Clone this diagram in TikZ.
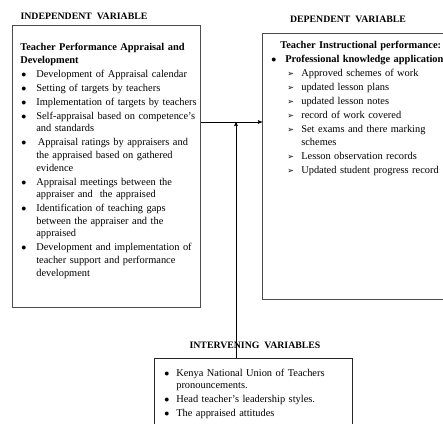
\documentclass[tikz,border=0pt]{standalone}
\usepackage{fontspec}
\setmainfont{Liberation Serif}
\newfontfamily\arrowfont{DejaVu Sans}
\usepackage{tikz}
\usetikzlibrary{arrows}
\usetikzlibrary{calc}
\usetikzlibrary{positioning}

\newlength{\itemgap}
\setlength{\itemgap}{1.4pt}
% bullet item, optional hanging indent
\newcommand{\bitem}[2][16pt]{\par\vspace{\itemgap}\hangindent=#1\hangafter=1\noindent\makebox[#1][l]{\hspace{1pt}$\bullet$}{#2}}
% arrow sub item
\newcommand{\aitem}[1]{\par\vspace{\itemgap}\hangindent=31pt\hangafter=1\noindent\hspace*{17pt}\makebox[14pt][l]{\arrowfont\fontsize{8}{8}\selectfont ➢}{#1}}

\begin{document}
\begin{tikzpicture}[x=1pt,y=-1pt,>=stealth',semithick]
 \tikzstyle{varbox}=[draw=black!70, line width=0.9pt, rectangle, inner sep=0pt, anchor=north west]
 \tikzstyle{head}=[font=\fontsize{9.8}{11}\selectfont\bfseries, inner sep=0pt]
 \tikzstyle{body}=[font=\fontsize{10.4}{12.6}\selectfont, text width=200pt, inner sep=0pt, anchor=north west]
 \useasboundingbox (0,0) rectangle (443,423);
 \clip (0,0) rectangle (443,423);

 \node[varbox, minimum width=188pt, minimum height=282pt] (indep) at (12,25) {};
 \node[varbox, minimum width=220pt, minimum height=266pt] (dep) at (262,33) {};
 \node[varbox, draw=black!85, minimum width=198pt, minimum height=90pt] (interv) at (154,358) {};

 \node[head] (indephead) at (84,16.5) {INDEPENDENT\hspace{5pt}VARIABLE};
 \node[head] (dephead) at (348,19.5) {DEPENDENT\hspace{5pt}VARIABLE};
 \node[head] (intervhead) at (255,345) {INTERVENING\hspace{5pt}VARIABLES};

 \node[body] (indeptext) at ($(indep.north west)+(8,18)$) {\raggedright
  {\bfseries Teacher Performance Appraisal and\newline Development}
  \bitem{Development of Appraisal calendar}
  \bitem{Setting of targets by teachers}
  \bitem{Implementation of targets by teachers}
  \bitem{Self-appraisal based on competence's\newline and standards}
  \bitem{\hspace{1.5pt}Appraisal ratings by appraisers and\newline the appraised based on gathered\newline evidence}
  \bitem{Appraisal meetings between the\newline appraiser and \ the appraised}
  \bitem{Identification of teaching gaps\newline between the appraiser and the\newline appraised}
  \bitem{Development and implementation of\newline teacher support and performance\newline development}\par};

 \node[body] (deptext) at ($(dep.north west)+(8,8)$) {\raggedright
  \hspace*{10pt}{\bfseries Teacher Instructional performance:}
  \bitem[15pt]{\bfseries Professional knowledge application}
  \aitem{Approved schemes of work}
  \aitem{updated lesson plans}
  \aitem{updated lesson notes}
  \aitem{record of work covered}
  \aitem{Set exams and there marking\newline schemes}
  \aitem{Lesson observation records}
  \aitem{Updated student progress record}\par};

 \node[body] (intervtext) at ($(interv.north west)+(9,4)$) {\raggedright
  \bitem[13pt]{Kenya National Union of Teachers\newline pronouncements.}
  \bitem[13pt]{Head teacher's leadership styles.}
  \bitem[13pt]{The appraised attitudes}\par};

 \coordinate (joint) at (236,122);
 \path[->]
  (indep.east |- joint) edge (dep.west |- joint)
  (interv.north -| joint) edge (joint);
\end{tikzpicture}
\end{document}
